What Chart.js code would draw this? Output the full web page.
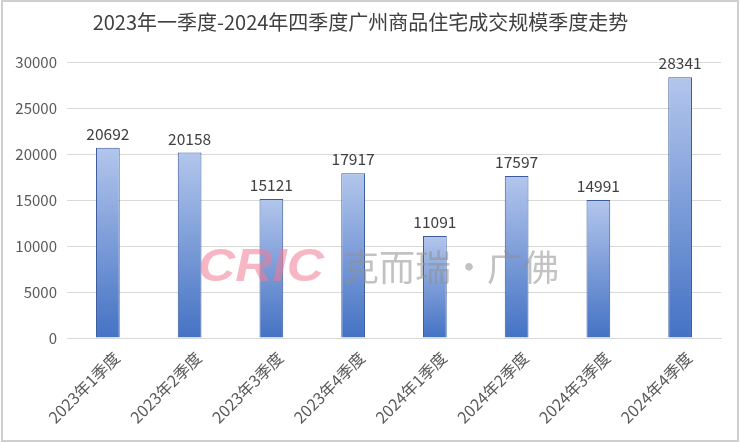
<!DOCTYPE html>
<html><head><meta charset="utf-8">
<script src="https://cdn.jsdelivr.net/npm/chart.js@4/dist/chart.umd.min.js"></script>
<style>html,body{margin:0;padding:0;background:#fff;}#wrap{width:740px;height:443px;}</style>
</head><body><div id="wrap"><canvas id="c" width="740" height="443"></canvas></div>
<script>
const categories = ["2023年1季度","2023年2季度","2023年3季度","2023年4季度","2024年1季度","2024年2季度","2024年3季度","2024年4季度"];
const values = [20692, 20158, 15121, 17917, 11091, 17597, 14991, 28341];
const yTicks = [0, 5000, 10000, 15000, 20000, 25000, 30000];
const titleText = "2023年一季度-2024年四季度广州商品住宅成交规模季度走势";
const FONT = "'Noto Sans CJK SC', 'Noto Sans', sans-serif";

const extras = {
  id: 'extras',
  afterDatasetsDraw(chart) {
    const ctx = chart.ctx;
    const meta = chart.getDatasetMeta(0);
    ctx.save();
    ctx.font = "15.5px " + FONT;
    ctx.fillStyle = "#404040";
    ctx.textAlign = "center";
    ctx.textBaseline = "bottom";
    meta.data.forEach((bar, i) => {
      ctx.fillText(String(values[i]), bar.x, bar.y - 6);
    });
    // watermark
    ctx.globalAlpha = 0.55;
    ctx.save();
    ctx.translate(198, 268);
    ctx.scale(1.12, 1);
    ctx.font = "italic bold 46px 'Liberation Sans', sans-serif";
    ctx.fillStyle = "#f07a93";
    ctx.textAlign = "left";
    ctx.textBaseline = "middle";
    ctx.fillText("CRIC", 0, 0);
    ctx.restore();
    ctx.font = "36px " + FONT;
    ctx.fillStyle = "#8f8f8f";
    ctx.textAlign = "left";
    ctx.textBaseline = "middle";
    ctx.fillText("克而瑞·广佛", 343, 267);
    ctx.restore();
  },
  afterDraw(chart) {
    const ctx = chart.ctx;
    ctx.save();
    ctx.strokeStyle = "#cfcfcf";
    ctx.lineWidth = 2;
    ctx.strokeRect(2, 1, 736, 440);
    ctx.restore();
  }
};

const ctx = document.getElementById('c').getContext('2d');
new Chart(ctx, {
  type: 'bar',
  data: {
    labels: categories,
    datasets: [{
      data: values,
      backgroundColor: (c) => {
        const ch = c.chart;
        const area = ch.chartArea;
        if (!area || c.dataIndex === undefined) return '#6f93d6';
        const top = ch.scales.y.getPixelForValue(values[c.dataIndex]);
        const g = ch.ctx.createLinearGradient(0, top, 0, area.bottom);
        g.addColorStop(0, '#b3c6ec');
        g.addColorStop(1, '#4472c4');
        return g;
      },
      borderColor: '#3a5a9c',
      borderWidth: 1,
      barPercentage: 0.29,
      categoryPercentage: 1.0
    }]
  },
  options: {
    responsive: false,
    animation: false,
    layout: { padding: { left: 0, right: 19, top: 0, bottom: 0 } },
    plugins: {
      legend: { display: false },
      tooltip: { enabled: false },
      title: {
        display: true,
        text: titleText,
        color: '#404040',
        font: { family: FONT, size: 20, weight: 'normal' },
        padding: { top: 10, bottom: 28 }
      }
    },
    scales: {
      x: {
        grid: { display: false, drawTicks: false },
        border: { display: true, color: '#d9d9d9' },
        ticks: {
          color: '#595959',
          font: { family: FONT, size: 16 },
          maxRotation: 45, minRotation: 45,
          padding: 10,
          labelOffset: 9,
          autoSkip: false
        },
        afterFit(s) { s.height = 105; }
      },
      y: {
        min: 0, max: 30000,
        afterBuildTicks(s) { s.ticks = yTicks.map(v => ({ value: v })); },
        grid: { color: '#d9d9d9', drawTicks: false },
        border: { display: false },
        ticks: {
          color: '#595959',
          font: { family: FONT, size: 15 },
          padding: 10,
          callback: (v) => String(v)
        },
        afterFit(s) { s.width = 67; }
      }
    }
  },
  plugins: [extras]
});
</script>
</body></html>
